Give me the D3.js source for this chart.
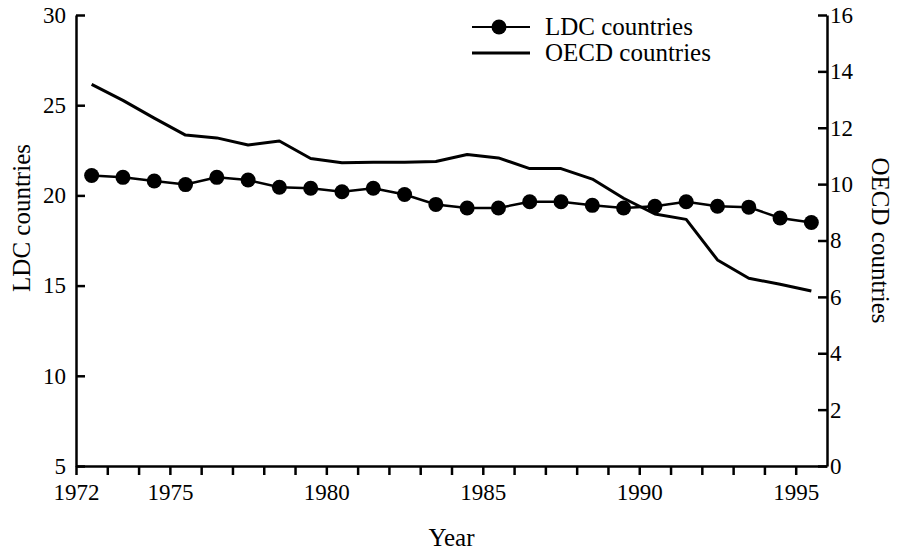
<!DOCTYPE html>
<html>
<head>
<meta charset="utf-8">
<script src="https://cdn.jsdelivr.net/npm/d3@7"></script>
<style>
  body { margin: 0; background: #fff; }
  text { font-family: "Liberation Serif", "DejaVu Serif", serif; fill: #000; }
</style>
</head>
<body>
<svg id="chart"></svg>
<script>
// values, one per year (plotted at mid-year)
const years = [1972, 1973, 1974, 1975, 1976, 1977, 1978, 1979, 1980, 1981, 1982, 1983,
  1984, 1985, 1986, 1987, 1988, 1989, 1990, 1991, 1992, 1993, 1994, 1995];
const ldc = [21.1, 21.0, 20.8, 20.6, 21.0, 20.85, 20.45, 20.4, 20.2, 20.4, 20.05, 19.5,
  19.3, 19.3, 19.65, 19.65, 19.45, 19.3, 19.4, 19.65, 19.4, 19.35, 18.75, 18.5];
const oecd = [13.54, 12.97, 12.34, 11.74, 11.64, 11.39, 11.53, 10.91, 10.76, 10.78, 10.78, 10.8,
  11.05, 10.93, 10.55, 10.55, 10.18, 9.5, 8.94, 8.75, 7.31, 6.66, 6.45, 6.21];
const xLabels = [1972, 1975, 1980, 1985, 1990, 1995];
const leftTicks = [5, 10, 15, 20, 25, 30];
const rightTicks = [0, 2, 4, 6, 8, 10, 12, 14, 16];

const W = 901, H = 552;
const margin = { top: 15, right: 74, bottom: 86, left: 76 };

const svg = d3.select('#chart').
  attr('width', W).
  attr('height', H);

const x = d3.scaleLinear().domain([1972, 1996]).range([margin.left, W - margin.right]);
const yL = d3.scaleLinear().domain([5, 30]).range([H - margin.bottom, margin.top]);
const yR = d3.scaleLinear().domain([0, 16]).range([H - margin.bottom, margin.top]);

const data = years.map((yr, i) => ({ t: yr + 0.5, ldc: ldc[i], oecd: oecd[i] }));

function styleAxis(g) {
  g.attr('font-size', 23).attr('font-family', '"Liberation Serif", serif');
  g.select('.domain').attr('stroke-width', 2.5);
  g.selectAll('.tick line').attr('stroke-width', 2.5);
}

// bottom axis
svg.append('g').
  attr('transform', `translate(0,${H - margin.bottom})`).
  call(d3.axisBottom(x).
    tickValues(d3.range(1972, 1996)).
    tickFormat(d => xLabels.includes(d) ? d : '').
    tickSizeInner(9).tickSizeOuter(0).tickPadding(9)).
  call(styleAxis);

// left axis, ticks inward
svg.append('g').
  attr('transform', `translate(${margin.left},0)`).
  call(d3.axisLeft(yL).tickValues(leftTicks).tickSizeInner(-9).tickSizeOuter(0).tickPadding(10)).
  call(styleAxis);

// right axis, ticks inward
svg.append('g').
  attr('transform', `translate(${W - margin.right},0)`).
  call(d3.axisRight(yR).tickValues(rightTicks).tickSizeInner(-9).tickSizeOuter(0).tickPadding(3)).
  call(styleAxis);

// OECD line
svg.append('path').
  datum(data).
  attr('fill', 'none').
  attr('stroke', '#000').
  attr('stroke-width', 3).
  attr('stroke-linejoin', 'round').
  attr('d', d3.line().x(d => x(d.t)).y(d => yR(d.oecd)));

// LDC line with dots
svg.append('path').
  datum(data).
  attr('fill', 'none').
  attr('stroke', '#000').
  attr('stroke-width', 2.5).
  attr('d', d3.line().x(d => x(d.t)).y(d => yL(d.ldc)));

svg.selectAll('.dot').
  data(data).
  enter().
  append('circle').
  attr('class', 'dot').
  attr('cx', d => x(d.t)).
  attr('cy', d => yL(d.ldc)).
  attr('r', 7.5).
  attr('fill', '#000');

// axis titles
svg.append('text').
  attr('x', (margin.left + W - margin.right) / 2).
  attr('y', 546).
  attr('text-anchor', 'middle').
  style('font-size', '25px').
  text('Year');

svg.append('text').
  attr('transform', 'translate(30,218) rotate(-90)').
  attr('text-anchor', 'middle').
  style('font-size', '25px').
  text('LDC countries');

svg.append('text').
  attr('transform', `translate(872,${(H - margin.bottom + margin.top) / 2}) rotate(90)`).
  attr('text-anchor', 'middle').
  style('font-size', '25px').
  text('OECD countries');

// legend
const legend = svg.append('g');
const legendItems = [
  { name: 'LDC countries', dot: true, y: 27 },
  { name: 'OECD countries', dot: false, y: 53 },
];
legendItems.forEach(item => {
  legend.append('line').
    attr('x1', 472).attr('x2', 530).
    attr('y1', item.y).attr('y2', item.y).
    attr('stroke', '#000').
    attr('stroke-width', item.dot ? 2 : 3);
  if (item.dot) {
    legend.append('circle').attr('cx', 499).attr('cy', item.y).attr('r', 7.5).attr('fill', '#000');
  }
  legend.append('text').
    attr('x', 545).
    attr('y', item.y + 8).
    style('font-size', '25px').
    text(item.name);
});
</script>
</body>
</html>
